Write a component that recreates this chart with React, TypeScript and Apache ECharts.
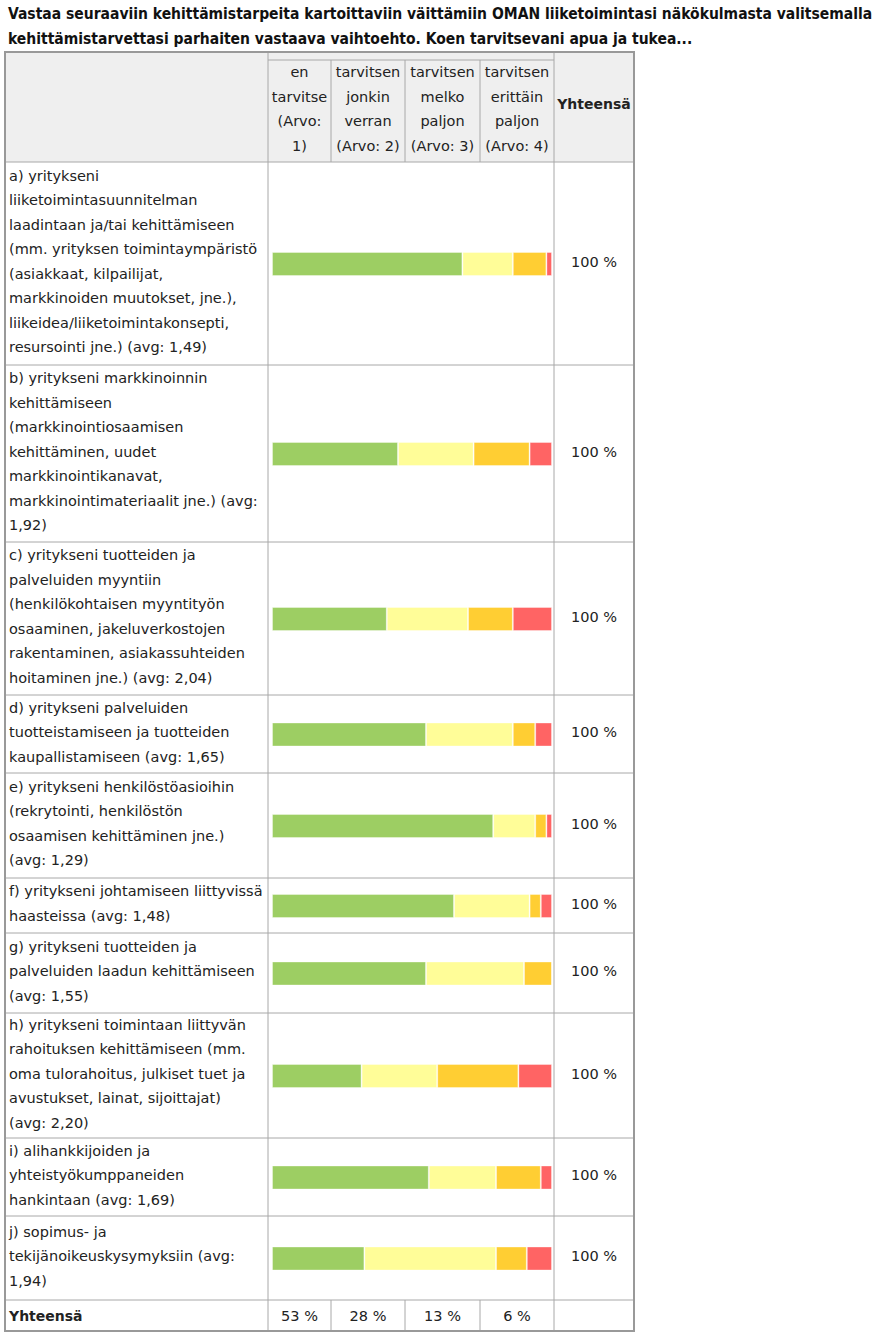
import React, { useEffect, useRef } from "react";
import * as echarts from "echarts";

const title = [
  "Vastaa seuraaviin kehittämistarpeita kartoittaviin väittämiin OMAN liiketoimintasi näkökulmasta valitsemalla",
  "kehittämistarvettasi parhaiten vastaava vaihtoehto. Koen tarvitsevani apua ja tukea...",
];

const columnHeaders = [
  ["en", "tarvitse", "(Arvo:", "1)"],
  ["tarvitsen", "jonkin", "verran", "(Arvo: 2)"],
  ["tarvitsen", "melko", "paljon", "(Arvo: 3)"],
  ["tarvitsen", "erittäin", "paljon", "(Arvo: 4)"],
];

const categories = [
  ["a) yritykseni", "liiketoimintasuunnitelman", "laadintaan ja/tai kehittämiseen", "(mm. yrityksen toimintaympäristö", "(asiakkaat, kilpailijat,", "markkinoiden muutokset, jne.),", "liikeidea/liiketoimintakonsepti,", "resursointi jne.) (avg: 1,49)"],
  ["b) yritykseni markkinoinnin", "kehittämiseen", "(markkinointiosaamisen", "kehittäminen, uudet", "markkinointikanavat,", "markkinointimateriaalit jne.) (avg:", "1,92)"],
  ["c) yritykseni tuotteiden ja", "palveluiden myyntiin", "(henkilökohtaisen myyntityön", "osaaminen, jakeluverkostojen", "rakentaminen, asiakassuhteiden", "hoitaminen jne.) (avg: 2,04)"],
  ["d) yritykseni palveluiden", "tuotteistamiseen ja tuotteiden", "kaupallistamiseen (avg: 1,65)"],
  ["e) yritykseni henkilöstöasioihin", "(rekrytointi, henkilöstön", "osaamisen kehittäminen jne.)", "(avg: 1,29)"],
  ["f) yritykseni johtamiseen liittyvissä", "haasteissa (avg: 1,48)"],
  ["g) yritykseni tuotteiden ja", "palveluiden laadun kehittämiseen", "(avg: 1,55)"],
  ["h) yritykseni toimintaan liittyvän", "rahoituksen kehittämiseen (mm.", "oma tulorahoitus, julkiset tuet ja", "avustukset, lainat, sijoittajat)", "(avg: 2,20)"],
  ["i) alihankkijoiden ja", "yhteistyökumppaneiden", "hankintaan (avg: 1,69)"],
  ["j) sopimus- ja", "tekijänoikeuskysymyksiin (avg:", "1,94)"],
];

const seriesNames = ["en tarvitse", "tarvitsen jonkin verran", "tarvitsen melko paljon", "tarvitsen erittäin paljon"];
const enTarvitse = [68, 45, 41, 55, 79, 65, 55, 32, 56, 33];
const jonkinVerran = [18, 27, 29, 31, 15, 27, 35, 27, 24, 47];
const melkoPaljon = [12, 20, 16, 8, 4, 4, 10, 29, 16, 11];
const erittainPaljon = [2, 8, 14, 6, 2, 4, 0, 12, 4, 9];
const rowTotals = ["100 %", "100 %", "100 %", "100 %", "100 %", "100 %", "100 %", "100 %", "100 %", "100 %"];
const columnTotals = ["53 %", "28 %", "13 %", "6 %"];
const totalLabel = "Yhteensä";

const COLORS = ["#9DCE63", "#FFFD98", "#FFCE33", "#FF6464"];
const colX = [5, 268, 331, 405, 480, 554, 634];
const rowY = [162, 365, 542, 695, 773, 878, 933, 1013, 1138, 1216, 1300, 1331];
const TABLE_TOP = 52;
const FONT = "'DejaVu Sans', Verdana, sans-serif";
const FS = "14.5px ";
const TEXT_COLOR = "#222";
const LINE = "#a8a8a8";

export default function App() {
  const ref = useRef<HTMLDivElement>(null);
  useEffect(() => {
    if (!ref.current) return;
    const chart = echarts.init(ref.current, null, { renderer: "svg" });
    const values = [enTarvitse, jonkinVerran, melkoPaljon, erittainPaljon];

    const grids: any[] = [];
    const xAxes: any[] = [];
    const yAxes: any[] = [];
    const series: any[] = [];
    categories.forEach((cat, i) => {
      const center = (rowY[i] + rowY[i + 1]) / 2 + 0.5;
      grids.push({ left: 272, width: 280, top: center - 12, height: 24 });
      xAxes.push({ type: "value", min: 0, max: 100, show: false, gridIndex: i });
      yAxes.push({ type: "category", data: [cat[0]], show: false, gridIndex: i });
      values.forEach((arr, s) => {
        series.push({
          type: "bar",
          name: seriesNames[s],
          xAxisIndex: i,
          yAxisIndex: i,
          stack: "row" + i,
          barWidth: 24,
          data: [arr[i]],
          itemStyle: { color: COLORS[s], borderColor: "rgba(255,255,255,0.35)", borderWidth: 1 },
          silent: true,
        });
      });
    });

    const g: any[] = [];
    g.push({ type: "rect", shape: { x: colX[0], y: TABLE_TOP, width: colX[6] - colX[0], height: rowY[0] - TABLE_TOP }, style: { fill: "#efefef" }, z: -10 });
    title.forEach((t, k) => {
      g.push({ type: "text", x: 8, y: 14 + k * 25, style: { text: t, font: "bold 15.5px 'DejaVu Sans Condensed', 'DejaVu Sans', sans-serif", fill: "#111", verticalAlign: "middle" } });
    });
    rowY.forEach((y) => {
      g.push({ type: "line", shape: { x1: colX[0], y1: y, x2: colX[6], y2: y }, style: { stroke: LINE, lineWidth: 1 } });
    });
    g.push({ type: "line", shape: { x1: colX[1], y1: 60, x2: colX[5], y2: 60 }, style: { stroke: LINE, lineWidth: 1 } });
    colX.forEach((x, k) => {
      if (k === 2 || k === 3 || k === 4) {
        g.push({ type: "line", shape: { x1: x, y1: 60, x2: x, y2: rowY[0] }, style: { stroke: LINE, lineWidth: 1 } });
        g.push({ type: "line", shape: { x1: x, y1: rowY[10], x2: x, y2: rowY[11] }, style: { stroke: LINE, lineWidth: 1 } });
      } else {
        g.push({ type: "line", shape: { x1: x, y1: TABLE_TOP, x2: x, y2: rowY[11] }, style: { stroke: LINE, lineWidth: 1 } });
      }
    });
    g.push({ type: "rect", shape: { x: colX[0], y: TABLE_TOP, width: colX[6] - colX[0], height: rowY[11] - TABLE_TOP }, style: { fill: "none", stroke: "#999", lineWidth: 2 } });
    columnHeaders.forEach((lines, c) => {
      g.push({
        type: "text",
        x: (colX[c + 1] + colX[c + 2]) / 2,
        y: (60 + rowY[0]) / 2 - 2,
        style: { text: lines.join("\n"), font: FS + FONT, fill: TEXT_COLOR, align: "center", verticalAlign: "middle", lineHeight: 24.5 },
      });
    });
    g.push({ type: "text", x: (colX[5] + colX[6]) / 2, y: 104, style: { text: totalLabel, font: "bold 14px " + FONT, fill: TEXT_COLOR, align: "center", verticalAlign: "middle" } });
    categories.forEach((lines, i) => {
      const center = (rowY[i] + rowY[i + 1]) / 2;
      g.push({ type: "text", x: 9, y: center - 2, style: { text: lines.join("\n"), font: FS + FONT, fill: TEXT_COLOR, align: "left", verticalAlign: "middle", lineHeight: 24.5 } });
      g.push({ type: "text", x: 571, y: center - 2, style: { text: rowTotals[i], font: FS + FONT, fill: TEXT_COLOR, align: "left", verticalAlign: "middle" } });
    });
    const totalCenter = (rowY[10] + rowY[11]) / 2;
    g.push({ type: "text", x: 9, y: totalCenter, style: { text: totalLabel, font: "bold 14px " + FONT, fill: TEXT_COLOR, align: "left", verticalAlign: "middle" } });
    columnTotals.forEach((t, c) => {
      g.push({ type: "text", x: (colX[c + 1] + colX[c + 2]) / 2, y: totalCenter, style: { text: t, font: FS + FONT, fill: TEXT_COLOR, align: "center", verticalAlign: "middle" } });
    });

    chart.setOption({
      animation: false,
      backgroundColor: "#ffffff",
      grid: grids,
      xAxis: xAxes,
      yAxis: yAxes,
      series,
      graphic: { elements: g },
    });
    return () => chart.dispose();
  }, []);
  return <div ref={ref} style={{ position: "absolute", left: 0, top: 0, width: 888, height: 1336 }} />;
}
